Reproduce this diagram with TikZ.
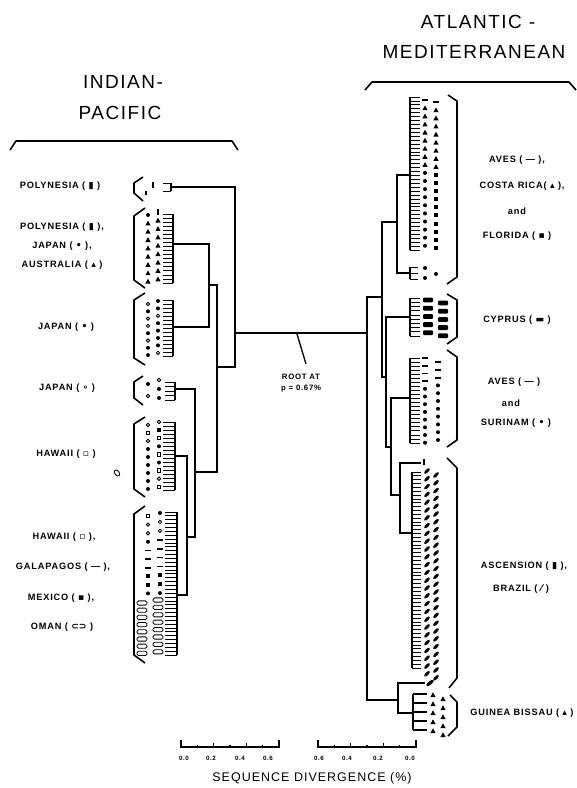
\documentclass[tikz,border=0pt]{standalone}
\usepackage{fontspec}
\usetikzlibrary{calc}
\newfontfamily\lbl{Liberation Sans}[LetterSpace=9]
\newfontfamily\hdr{Liberation Sans}[LetterSpace=8]
\newfontfamily\symf{DejaVu Sans}
\tikzset{
  tree/.style={line width=1.8pt, line join=miter},
  spine/.style={line width=1.1pt},
  tooth/.style={line width=0.75pt},
  fattooth/.style={line width=2.4pt},
  brk/.style={line width=1.6pt, line join=round},
  symline/.style={line width=0.85pt},
  lab/.style={font={\lbl\bfseries\fontsize{9.2}{10}\selectfont}, inner sep=0pt},
  hdrlab/.style={font={\hdr\fontsize{19}{22}\selectfont}, inner sep=0pt},
  rootlab/.style={font={\lbl\bfseries\fontsize{7.8}{10}\selectfont}, inner sep=0pt, align=center},
  scalelab/.style={font={\lbl\bfseries\fontsize{6.2}{7}\selectfont}, inner sep=0pt},
  axislab/.style={font={\hdr\fontsize{12.5}{14}\selectfont}, inner sep=0pt},
  scalebar/.style={line width=1.2pt},
}
% symbols
\newcommand\Sydot[2]{\fill (#1,#2) circle (2pt);}
\newcommand\Syodot[2]{\draw[symline] (#1,#2) circle (1.7pt);}
\newcommand\Sytri[2]{\fill (#1-2.6,#2+2.1) -- (#1+2.6,#2+2.1) -- (#1,#2-2.7) -- cycle;}
\newcommand\Sybar[2]{\fill (#1-1.2,#2-3.3) rectangle (#1+1.2,#2+3.3);}
\newcommand\Sysbar[2]{\fill (#1-1,#2-2.2) rectangle (#1+1,#2+2.2);}
\newcommand\Sydash[2]{\fill (#1-2.9,#2-0.9) rectangle (#1+2.9,#2+0.9);}
\newcommand\Sysq[2]{\draw[symline] (#1-1.7,#2-1.7) rectangle (#1+1.7,#2+1.7);}
\newcommand\Syfsq[2]{\fill (#1-2,#2-2) rectangle (#1+2,#2+2);}
\newcommand\Syoval[2]{\draw[symline,rounded corners=1.5pt] (#1-5,#2-2.1) rectangle (#1+5,#2+2.1);}
\newcommand\Syblob[2]{\fill[rotate around={45:(#1,#2)}] (#1,#2) ellipse (3.6pt and 1.6pt);}
\newcommand\Sybigblob[2]{\fill[rotate around={40:(#1,#2)}] (#1,#2) ellipse (4.6pt and 1.8pt);}
\newcommand\Sycyp[2]{\fill[rounded corners=1pt] (#1-5,#2-2.4) rectangle (#1+5,#2+2.4);}
% a column of symbols: x, y0, step, list
\newcommand\Col[4]{\foreach \s [count=\i from 0] in {#4}{\csname Sy\s\endcsname{#1}{#2+\i*#3}}}
% comb: [tooth style] spine x, teeth end x, ytop, ybot, n
\newcommand\Comb[6][tooth]{%
  \draw[spine] (#2,#4) -- (#2,#5);
  \pgfmathsetmacro\CombStep{(#5-#4)/(#6-1)}
  \foreach \k in {1,...,#6}{\draw[#1] (#2,{#4+(\k-1)*\CombStep}) -- (#3,{#4+(\k-1)*\CombStep});}
}
\begin{document}
\begin{tikzpicture}[x=1pt,y=-1pt]
\useasboundingbox (0,0) rectangle (577,788);
\fill[white] (0,0) rectangle (577,788);

% ---------- headers ----------
\node[hdrlab] (hIP1) at (123,82) {INDIAN-};
\node[hdrlab] (hIP2) at (120,113) {PACIFIC};
\draw[brk] (10,150) -- (16,141) -- (232,141) -- (238,150);
\node[hdrlab] (hAM1) at (478,22) {ATLANTIC -};
\node[hdrlab] (hAM2) at (474,52) {MEDITERRANEAN};
\draw[brk] (365,90) -- (372,82) -- (569,82) -- (576,90);

% ---------- left labels ----------
\node[lab] (lp1) at (60,186) {POLYNESIA ( {\symf ▮} )};
\node[lab] (lp2) at (62,227) {POLYNESIA ( {\symf ▮} ),};
\node[lab] (lj1) at (62,246) {JAPAN ( {\symf •} ),};
\node[lab] (la1) at (62,265) {AUSTRALIA ( {\symf ▴} )};
\node[lab] (lj2) at (66,327) {JAPAN ( {\symf •} )};
\node[lab] (lj3) at (67,388) {JAPAN ( {\symf ∘} )};
\node[lab] (lh1) at (66,454) {HAWAII ( {\symf ▫} )};
\node[lab] (lh2) at (64,537) {HAWAII ( {\symf ▫} ),};
\node[lab] (lg1) at (63,567) {GALAPAGOS ( — ),};
\node[lab] (lm1) at (61,598) {MEXICO ( {\symf ▪} ),};
\node[lab] (lo1) at (62,627) {OMAN ( {\symf ⊂⊃} )};

% ---------- right labels ----------
\node[lab] (ra1) at (517,160) {AVES ( — ),};
\node[lab] (rc1) at (522,186) {COSTA RICA( {\symf ▴} ),};
\node[lab] (rand1) at (517,211) {and};
\node[lab] (rf1) at (517,236) {FLORIDA ( {\symf ▪} )};
\node[lab] (rcy) at (517,320) {CYPRUS ( {\symf ▬} )};
\node[lab] (ra2) at (514,382) {AVES ( — )};
\node[lab] (rand2) at (511,403) {and};
\node[lab] (rs1) at (516,423) {SURINAM ( {\symf •} )};
\node[lab] (ras) at (524,566) {ASCENSION ( {\symf ▮} ),};
\node[lab] (rbr) at (521,589) {BRAZIL ( {\symf ⁄} )};
\node[lab] (rgb) at (522,713) {GUINEA BISSAU ( {\symf ▴} )};

% ---------- left brackets ----------
\draw[brk] (143,177) -- (134,183) -- (134,193) -- (143,201);
\draw[brk] (145,208) -- (134,216) -- (134,280) -- (145,288);
\draw[brk] (145,293) -- (134,300) -- (134,358) -- (145,365);
\draw[brk] (143,376) -- (134,382) -- (134,398) -- (143,405);
\draw[brk] (145,417) -- (134,424) -- (134,489) -- (145,497);
\draw[brk] (145,506) -- (134,514) -- (134,655) -- (145,663);

% ---------- right brackets ----------
\draw[brk] (448,95) -- (457,101) -- (457,277) -- (447,284);
\draw[brk] (447,294) -- (457,300) -- (457,337) -- (447,344);
\draw[brk] (447,350) -- (457,357) -- (457,440) -- (447,447);
\draw[brk] (447,458) -- (457,468) -- (457,678) -- (449,688);
\draw[brk] (450,695) -- (457,702) -- (457,727) -- (448,736);

% ---------- left leaf groups ----------
\Comb{171}{163}{183}{191}{2}
\Sysbar{146}{193}
\Sybar{153}{185}
\Comb{173}{163}{214}{283}{18}
\Col{148}{215}{8.3}{dot,tri,tri,tri,tri,tri,tri,tri,tri}
\Col{158}{212}{8.4}{bar,tri,tri,tri,tri,tri,tri,tri,tri}
\Comb{173}{163}{300}{356}{15}
\Col{148}{304}{7.3}{odot,dot,odot,odot,dot,odot,dot,dot}
\Col{158}{301}{7.4}{dot,dot,odot,dot,dot,dot,dot,odot}
\Comb{175}{165}{382}{400}{5}
\Col{148}{384}{12}{dot,odot}
\Col{159}{380}{9}{odot,dot,dot}
\Comb{175}{163}{422}{490}{18}
\Col{148}{425}{8}{odot,sq,odot,dot,dot,dot,dot,dot,dot}
\Col{159}{422}{8.1}{odot,fsq,sq,dot,sq,dot,sq,odot,sq}
\Comb{177}{165}{512}{655}{38}
\Col{148}{516}{8.6}{sq,odot,odot,dot,dash,dash,dash,fsq,fsq,dot}
\Col{160}{513}{8.9}{dot,odot,odot,dash,dash,dash,dash,fsq,fsq,dot}
\Col{142}{603}{7.2}{oval,oval,oval,oval,oval,oval,oval,oval}
\Col{158}{600}{7.4}{oval,oval,oval,oval,oval,oval,oval,oval}
\draw[symline, rotate around={40:(117,473)}] (117,473) ellipse (2.2pt and 3.4pt);

% ---------- right leaf groups ----------
\Comb{410}{420}{97}{250}{40}
\Col{425}{100}{8.1}{dash,tri,tri,tri,tri,tri,tri,tri,tri,dot,dot,dot,dot,dot,dot,dot,dot,dot,dot}
\Col{436}{102}{8.1}{dash,tri,tri,tri,tri,tri,tri,tri,tri,fsq,fsq,fsq,fsq,fsq,fsq,fsq,fsq,fsq,fsq}
\Comb{410}{418}{267}{279}{3}
\Col{425}{268}{10}{dot,dot}
\Sydot{436}{274}
\Comb{410}{420}{298}{336}{10}
\Col{428}{300}{8.2}{cyp,cyp,cyp,cyp,cyp}
\Col{443}{303}{8.2}{cyp,cyp,cyp,cyp,cyp}
\Comb{410}{420}{358}{443}{22}
\Col{425}{358}{7.7}{dash,dash,dash,dash,dot,dot,dot,dot,dot,dot,dot,dot}
\Col{438}{362}{7.8}{dash,dash,dash,dot,dot,dot,dot,dot,dot,dot,dot}
\Sybar{424}{462}
\Comb{412}{421}{472}{668}{52}
\Col{427}{471}{7.8}{blob,blob,blob,blob,blob,blob,blob,blob,blob,blob,blob,blob,blob,blob,blob,blob,blob,blob,blob,blob,blob,blob,blob,blob,blob,blob,blob}
\Col{436}{475}{7.8}{blob,blob,blob,blob,blob,blob,blob,blob,blob,blob,blob,blob,blob,blob,blob,blob,blob,blob,blob,blob,blob,blob,blob,blob,blob,blob,blob}
\Sybigblob{430}{683}
\Comb[fattooth]{413}{427}{694}{730}{5}
\Col{433}{695}{9}{tri,tri,tri,tri,tri}
\Col{443}{699}{9}{tri,tri,tri,tri,tri}

% ---------- tree coordinates ----------
\coordinate (g1) at (171,187);
\coordinate (g2) at (173,244);
\coordinate (g3) at (173,327);
\coordinate (g4) at (175,389);
\coordinate (g5) at (175,456);
\coordinate (g6) at (177,595);
\coordinate (nA) at (209,285);
\coordinate (nD) at (187,537);
\coordinate (nC) at (195,472);
\coordinate (nB) at (217,367);
\coordinate (nL) at (235,333);
\coordinate (r1) at (410,175);
\coordinate (r1b) at (410,273);
\coordinate (cy) at (410,317);
\coordinate (av) at (410,398);
\coordinate (asc1) at (421,463);
\coordinate (asc) at (412,533);
\coordinate (gbs) at (425,683);
\coordinate (gb) at (413,713);
\coordinate (nE) at (397,222);
\coordinate (nT) at (400,495);
\coordinate (nS) at (391,447);
\coordinate (nQ) at (386,377);
\coordinate (nP) at (382,297);
\coordinate (nU) at (398,700);
\coordinate (nR) at (367,333);

% ---------- tree ----------
\draw[tree] (g2) -| (nA) |- (g3);
\draw[tree] (g5) -| (nD) |- (g6);
\draw[tree] (g4) -| (nC) |- (nD);
\draw[tree] (nA) -| (nB) |- (nC);
\draw[tree] (g1) -| (nL) |- (nB);
\draw[tree] (nL) -- (nR);
\draw[tree] (r1) -| (nE) |- (r1b);
\draw[tree] (asc1) -| (nT) |- (asc);
\draw[tree] (av) -| (nS) |- (nT);
\draw[tree] (cy) -| (nQ) |- (nS);
\draw[tree] (nE) -| (nP) |- (nQ);
\draw[tree] (gbs) -| (nU) |- (gb);
\draw[tree] (nP) -| (nR) |- (nU);

% ---------- root label ----------
\node[rootlab] (rootlbl) at (301,383) {ROOT AT\\[1pt]p = 0.67\%};
\coordinate (rootpt) at (297,334);
\coordinate (roottail) at (306,364);
\draw[line width=1.3pt] (rootpt) -- (roottail);

% ---------- scale bars ----------
\coordinate (sL0) at (181,747);
\coordinate (sL6) at (279,747);
\coordinate (sR6) at (318,747);
\coordinate (sR0) at (416,747);
\draw[scalebar] ($(sL0)+(0,-7)$) -- (sL0) -- (sL6) -- ($(sL6)+(0,-7)$);
\draw[scalebar] ($(sR6)+(0,-7)$) -- (sR6) -- (sR0) -- ($(sR0)+(0,-7)$);
\foreach \t in {1,...,5}{
  \pgfmathsetmacro\th{mod(\t,2)==0 ? 4 : 2}
  \draw[scalebar] ($(sL0)!\t/6!(sL6)$) -- ++(0,-\th);
  \draw[scalebar] ($(sR6)!\t/6!(sR0)$) -- ++(0,-\th);
}
\node[scalelab] (tL0) at (184,758) {0.0};
\node[scalelab] (tL2) at (211,758) {0.2};
\node[scalelab] (tL4) at (240,758) {0.4};
\node[scalelab] (tL6) at (268,758) {0.6};
\node[scalelab] (tR6) at (319,758) {0.6};
\node[scalelab] (tR4) at (347,758) {0.4};
\node[scalelab] (tR2) at (378,758) {0.2};
\node[scalelab] (tR0) at (410,758) {0.0};
\node[axislab] (axis) at (312,778) {SEQUENCE DIVERGENCE (\%)};
\end{tikzpicture}
\end{document}
